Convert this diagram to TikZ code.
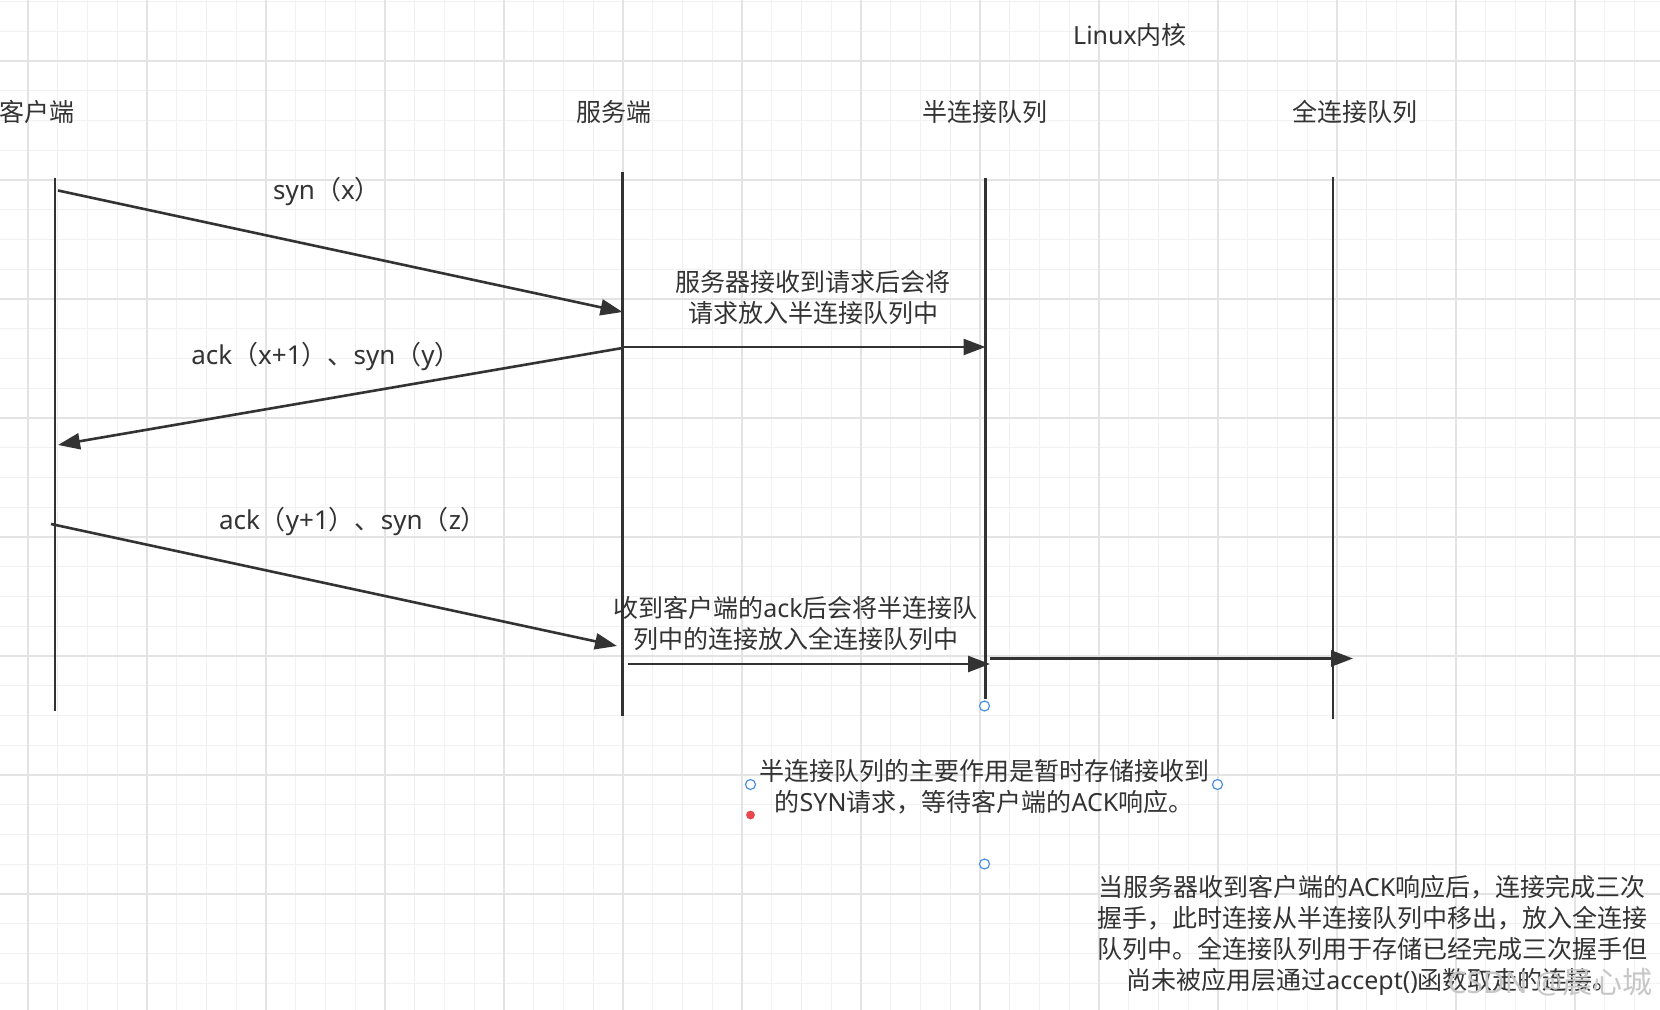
\documentclass[tikz,border=0pt]{standalone}
\usepackage{fontspec}
\setmainfont{Noto Sans CJK SC}
\newfontfamily\lat{Noto Sans}
\usetikzlibrary{arrows.meta}

\definecolor{ink}{HTML}{333333}
\definecolor{gridminor}{HTML}{F1F1F1}
\definecolor{gridmajor}{HTML}{E3E3E3}
\definecolor{handleblue}{HTML}{4A90E2}
\definecolor{handlered}{HTML}{E5484D}

\tikzset{
  lifeline/.style={draw=ink, line width=1.1pt},
  msg/.style={draw=ink, line width=1.3pt, -{Triangle[length=11pt,width=8pt]}},
  lbl/.style={text=ink, font=\fontsize{12.5}{15.5}\selectfont, inner sep=0pt, align=center},
  msglbl/.style={lbl, font=\fontsize{13}{15.5}\selectfont},
  handle/.style={circle, draw=handleblue, fill=white, line width=0.6pt, inner sep=0pt, minimum size=5pt},
}

\begin{document}
\begin{tikzpicture}[x=0.5pt, y=-0.5pt]
\useasboundingbox (0,0) rectangle (1660,1010);
% background grid:
\fill[white] (0,0) rectangle (1660,1010);
\foreach \i in {-1,...,56}
  \draw[gridminor, line width=0.5pt] ({28+29.75*\i},0) -- ({28+29.75*\i},1010);
\foreach \j in {-3,...,32}
  \draw[gridminor, line width=0.5pt] (0,{61+29.75*\j}) -- (1660,{61+29.75*\j});
\foreach \i in {0,...,13}
  \draw[gridmajor, line width=0.8pt] ({28+119*\i},0) -- ({28+119*\i},1010);
\foreach \j in {-1,...,8}
  \draw[gridmajor, line width=0.8pt] (0,{61+119*\j}) -- (1660,{61+119*\j});

% headers:
\node[lbl] (kernel) at (1130,35) {{\lat Linux}内核};
\node[lbl] (cliLbl) at (37,112) {客户端};
\node[lbl] (srvLbl) at (614,112) {服务端};
\node[lbl] (halfLbl) at (985,112) {半连接队列};
\node[lbl] (fullLbl) at (1355,112) {全连接队列};

% lifelines:
\coordinate (cliTop) at (55,178);   \coordinate (cliBot) at (55,711);
\coordinate (srvTop) at (622.5,172); \coordinate (srvBot) at (622.5,716);
\coordinate (halfTop) at (985.5,178); \coordinate (halfBot) at (985.5,699);
\coordinate (fullTop) at (1333,177); \coordinate (fullBot) at (1333,719);
\draw[lifeline] (cliTop) -- (cliBot);
\draw[lifeline] (srvTop) -- (srvBot);
\draw[lifeline] (halfTop) -- (halfBot);
\draw[lifeline] (fullTop) -- (fullBot);

% handshake messages:
\coordinate (synOut) at (58,190.5);   \coordinate (synIn) at (622.5,312);
\coordinate (ackOut) at (622.5,348);  \coordinate (ackIn) at (58,445);
\coordinate (ack2Out) at (51,524);    \coordinate (ack2In) at (617,646);
\draw[msg] (synOut) -- (synIn);
\draw[msg] (ackOut) -- (ackIn);
\draw[msg] (ack2Out) -- (ack2In);
\node[msglbl] (synLbl) at (327,191) {{\lat syn}（{\lat x}）};
\node[msglbl] (ackLbl) at (326,356) {{\lat ack}（{\lat x+1}）、{\lat syn}（{\lat y}）};
\node[msglbl] (ack2Lbl) at (353,521) {{\lat ack}（{\lat y+1}）、{\lat syn}（{\lat z}）};

% queue moves:
\coordinate (srvA) at (622.5,347);  \coordinate (halfA) at (985.5,347);
\coordinate (srvB) at (628,664);    \coordinate (halfB) at (990,664);
\coordinate (halfC) at (990,658.5); \coordinate (fullC) at (1353,658.5);
\draw[msg] (srvA) -- (halfA);
\draw[msg] (srvB) -- (halfB);
\draw[msg] (halfC) -- (fullC);
\node[lbl] (toHalf) at (813,298) {服务器接收到请求后会将\\请求放入半连接队列中};
\node[lbl] (toFull) at (795.5,623) {收到客户端的{\lat ack}后会将半连接队\\列中的连接放入全连接队列中};

% notes:
\node[lbl] (halfNote) at (984,787) {半连接队列的主要作用是暂时存储接收到\\的{\lat SYN}请求，等待客户端的{\lat ACK}响应。};
\node[lbl] (fullNote) at (1372,935) {当服务器收到客户端的{\lat ACK}响应后，连接完成三次\\握手，此时连接从半连接队列中移出，放入全连接\\队列中。全连接队列用于存储已经完成三次握手但\\尚未被应用层通过{\lat accept()}函数取走的连接。};
\node[text=black!22, font=\fontsize{15}{18}\selectfont, inner sep=0pt] (mark) at (1550,982) {{\lat CSDN @}晨心城};

% selection handles:
\node[handle] (hTop) at (984.5,706) {};
\node[handle] (hLeft) at (750.5,784.5) {};
\node[handle] (hRight) at (1217.5,784.5) {};
\node[handle] (hBot) at (984.5,864) {};
\fill[handlered] (750.5,815) circle (2.2pt);
\end{tikzpicture}
\end{document}
